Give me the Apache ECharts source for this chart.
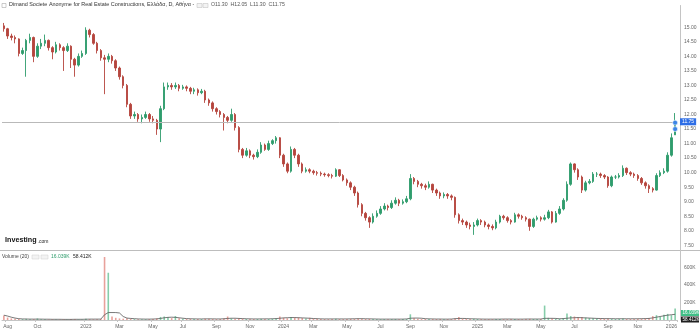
<!DOCTYPE html>
<html><head><meta charset="utf-8">
<script src="https://cdn.jsdelivr.net/npm/echarts@6/dist/echarts.min.js"></script>
<style>html,body{margin:0;padding:0;background:#fff}#c{width:700px;height:331px}</style>
</head><body><div id="c"></div>
<script>
// ---- data (weekly candles) ----
const firstWeek = '2022-07-25';
const weekCount = 181;
// [open, close, low, high]
const ohlc = [
[15.05,14.95,14.85,15.15],[14.95,14.70,14.60,14.98],[14.70,14.65,14.55,14.78],[14.65,14.60,14.45,14.72],[14.60,14.10,14.00,14.62],
[14.10,14.20,14.05,14.30],[14.20,14.55,13.30,14.60],[14.55,14.65,14.45,14.78],[14.65,14.00,13.80,14.68],[14.00,14.35,13.95,14.45],
[14.35,14.45,14.25,14.60],[14.45,14.55,14.35,14.75],[14.55,14.30,14.20,14.58],[14.30,14.15,13.90,14.35],[14.15,14.40,14.10,14.50],
[14.40,14.30,14.20,14.45],[14.30,14.20,13.50,14.35],[14.20,14.35,14.15,14.45],[14.35,13.90,13.60,14.38],[13.90,13.70,13.30,13.95],
[13.70,14.00,13.65,14.10],[14.00,14.10,13.95,14.20],[14.10,14.90,14.05,15.00],[14.90,14.75,14.65,14.95],[14.75,14.45,14.40,14.80],
[14.45,14.20,14.10,14.50],[14.20,13.95,13.85,14.25],[13.95,13.90,12.70,14.05],[13.90,14.00,13.80,14.10],[14.00,13.85,13.75,14.05],
[13.85,13.60,13.50,13.90],[13.60,13.30,13.20,13.65],[13.30,13.00,12.90,13.35],[13.00,12.35,12.25,13.05],[12.35,11.95,11.85,12.40],
[11.95,12.00,11.85,12.10],[12.00,11.85,11.75,12.05],[11.85,11.90,11.70,12.00],[11.90,12.00,11.85,12.10],[12.00,11.85,11.75,12.05],
[11.85,11.80,11.70,11.95],[11.80,11.50,11.30,11.85],[11.50,12.20,11.05,12.30],[12.20,12.95,12.15,13.10],[12.95,13.00,12.85,13.10],
[13.00,12.95,12.85,13.08],[12.95,13.00,12.88,13.10],[13.00,12.90,12.80,13.05],[12.90,12.95,12.85,13.02],[12.95,12.90,12.80,13.00],
[12.90,12.80,12.70,12.95],[12.80,12.85,12.70,12.92],[12.85,12.75,12.65,12.90],[12.75,12.80,12.70,12.88],[12.80,12.50,12.40,12.85],
[12.50,12.40,12.30,12.55],[12.40,12.20,12.10,12.45],[12.20,12.10,12.00,12.25],[12.10,12.00,11.90,12.15],[12.00,11.90,11.45,12.05],
[11.90,11.80,11.70,11.95],[11.80,12.00,11.75,12.20],[12.00,11.55,11.45,12.05],[11.55,10.80,10.70,11.60],[10.80,10.60,10.50,10.85],
[10.60,10.75,10.55,10.85],[10.75,10.60,10.50,10.80],[10.60,10.55,10.45,10.65],[10.55,10.70,10.50,10.80],[10.70,10.95,10.65,11.05],
[10.95,10.80,10.75,11.00],[10.80,11.00,10.75,11.10],[11.00,11.10,10.95,11.15],[11.10,11.20,11.00,11.26],[11.20,10.60,10.50,11.22],
[10.60,10.30,10.20,10.65],[10.30,10.05,9.98,10.35],[10.05,10.80,10.00,10.90],[10.80,10.60,10.50,10.85],[10.60,10.30,10.20,10.65],
[10.30,10.05,9.98,10.35],[10.05,10.10,10.00,10.18],[10.10,10.05,9.98,10.15],[10.05,10.00,9.93,10.10],[10.00,9.98,9.90,10.06],
[9.98,9.95,9.88,10.04],[9.95,9.93,9.86,10.00],[9.93,9.90,9.84,9.98],[9.90,9.88,9.80,9.96],[9.88,10.10,9.85,10.15],
[10.10,9.90,9.85,10.12],[9.90,9.75,9.70,9.95],[9.75,9.65,9.55,9.80],[9.65,9.50,9.40,9.70],[9.50,9.30,9.20,9.55],
[9.30,8.90,8.80,9.35],[8.90,8.60,8.50,8.95],[8.60,8.45,8.35,8.65],[8.45,8.30,8.10,8.50],[8.30,8.50,8.25,8.60],
[8.50,8.60,8.45,8.70],[8.60,8.75,8.55,8.85],[8.75,8.85,8.70,8.95],[8.85,8.80,8.70,8.90],[8.80,8.95,8.75,9.05],
[8.95,9.05,8.90,9.15],[9.05,8.95,8.85,9.10],[8.95,9.00,8.90,9.08],[9.00,9.10,8.95,9.20],[9.10,9.80,9.05,9.95],
[9.80,9.70,9.60,9.85],[9.70,9.60,9.50,9.75],[9.60,9.55,9.45,9.65],[9.55,9.50,9.40,9.62],[9.50,9.60,9.45,9.70],
[9.60,9.40,9.30,9.62],[9.40,9.30,9.20,9.45],[9.30,9.20,9.10,9.35],[9.20,9.25,9.12,9.32],[9.25,9.20,9.10,9.30],
[9.20,9.15,9.05,9.25],[9.15,8.55,8.45,9.18],[8.55,8.35,8.25,8.60],[8.35,8.30,8.20,8.42],[8.30,8.20,8.10,8.35],
[8.20,8.15,8.05,8.28],[8.15,8.20,7.86,8.30],[8.20,8.35,8.15,8.42],[8.35,8.30,8.20,8.40],[8.30,8.20,8.12,8.35],
[8.20,8.15,8.05,8.25],[8.15,8.10,8.02,8.22],[8.10,8.30,8.05,8.38],[8.30,8.50,8.25,8.55],[8.50,8.45,8.38,8.55],
[8.45,8.35,8.28,8.50],[8.35,8.30,8.22,8.40],[8.30,8.55,8.28,8.62],[8.55,8.50,8.42,8.60],[8.50,8.45,8.38,8.55],
[8.45,8.40,8.32,8.50],[8.40,8.15,8.00,8.42],[8.15,8.40,8.10,8.45],[8.40,8.45,8.35,8.52],[8.45,8.40,8.32,8.50],
[8.40,8.45,8.35,8.55],[8.45,8.65,8.40,8.72],[8.65,8.30,8.25,8.68],[8.30,8.60,8.28,8.68],[8.60,8.75,8.55,8.85],
[8.75,9.05,8.70,9.12],[9.05,9.60,9.00,9.70],[9.60,10.30,9.55,10.35],[10.30,10.10,10.00,10.32],[10.10,9.85,9.75,10.15],
[9.85,9.40,9.30,9.90],[9.40,9.65,9.35,9.72],[9.65,9.70,9.60,9.78],[9.70,9.95,9.65,10.02],[9.95,9.95,9.85,10.02],
[9.95,9.90,9.82,10.00],[9.90,9.85,9.78,9.95],[9.85,9.55,9.48,9.88],[9.55,9.85,9.50,9.90],[9.85,9.85,9.78,9.92],
[9.85,9.90,9.80,9.98],[9.90,10.15,9.85,10.25],[10.15,10.00,9.92,10.18],[10.00,9.95,9.88,10.05],[9.95,9.90,9.82,10.00],
[9.90,9.80,9.72,9.95],[9.80,9.65,9.58,9.85],[9.65,9.55,9.45,9.70],[9.55,9.45,9.30,9.60],[9.45,9.40,9.32,9.50],
[9.40,9.90,9.38,9.98],[9.90,10.00,9.85,10.08],[10.00,10.05,9.95,10.15],[10.05,10.60,10.00,10.70],[10.60,11.20,10.55,11.35],
[11.30,11.75,11.30,12.05]
];
// volume in thousands
const volumeK = [
50,28,18,14,12,10,14,9,10,18,
9,8,7,8,7,6,8,6,9,10,
7,6,14,10,8,9,12,720,540,40,
25,18,15,20,14,10,9,8,9,10,
12,18,35,40,30,22,45,20,15,12,
14,10,12,11,15,14,12,10,11,16,
40,18,14,20,15,12,10,11,12,14,
11,12,15,18,40,25,20,32,28,30,
22,18,25,15,14,12,11,10,12,15,
12,10,12,14,13,18,15,12,14,11,
10,9,10,9,10,12,9,10,12,65,
20,14,12,11,10,12,11,10,9,10,
11,18,35,15,12,11,14,12,10,9,
10,9,11,12,10,9,10,11,10,9,
10,14,12,10,11,165,25,18,14,16,
22,75,45,40,30,35,28,22,20,18,
16,15,18,14,12,14,16,12,11,12,
13,15,18,20,45,55,40,60,70,55,
130
];
const volumeMA = [
55,45,32,22,15,12,11,10,10,10,
10,9,9,8,8,8,7,7,7,8,
8,8,9,10,10,10,10,60,85,85,
85,80,40,22,18,15,12,11,10,10,
11,13,18,25,30,32,30,25,20,16,
14,13,12,12,13,13,13,12,12,14,
18,20,20,18,16,14,13,12,12,12,
13,13,14,16,20,24,26,28,28,26,
24,22,20,17,15,13,12,12,12,12,
12,12,12,13,14,15,15,14,13,12,
11,10,10,10,10,10,10,10,12,20,
22,22,20,15,13,12,11,11,10,10,
11,15,18,18,17,14,13,12,11,10,
10,10,10,10,11,11,11,10,10,10,
11,11,11,11,11,19,19,19,18,14,
16,20,24,26,28,26,24,22,20,18,
17,16,15,15,14,14,14,14,14,14,
14,15,16,18,24,32,40,48,55,60,
65
];
const tickLabels = [
['2022-08-01','Aug'],['2022-10-01','Oct'],['2023-01-01','2023'],['2023-03-01','Mar'],['2023-05-01','May'],
['2023-07-01','Jul'],['2023-09-01','Sep'],['2023-11-01','Nov'],['2024-01-01','2024'],['2024-03-01','Mar'],
['2024-05-01','May'],['2024-07-01','Jul'],['2024-09-01','Sep'],['2024-11-01','Nov'],['2025-01-01','2025'],
['2025-03-01','Mar'],['2025-05-01','May'],['2025-07-01','Jul'],['2025-09-01','Sep'],['2025-11-01','Nov'],
['2026-01-01','2026']
];
const lastPrice = 11.75;
const titleText = 'Dimand Societe Anonyme for Real Estate Constructions, Ελλάδα, D, Αθήνα -';
const ohlcText = 'O11.30  H12.05  L11.30  C11.75';
const volLegend = ['Volume (20)', '16.039K', '58.412K'];

// ---- build ----
const DAY = 86400000;
const t0 = Date.parse(firstWeek + 'T00:00:00Z');
const weeks = [];
for (let i = 0; i < weekCount; i++) weeks.push(new Date(t0 + i * 7 * DAY).toISOString().slice(0, 10));
const tickMap = {};
tickLabels.forEach(([d, l]) => { tickMap[Math.floor((Date.parse(d + 'T00:00:00Z') - t0) / (7 * DAY))] = l; });

const UP = '#2f9c6c', DOWN = '#b5453d';
const UPV = '#86cdaa', DOWNV = '#e8a19b';
const FONT = 'Liberation Sans, Arial, sans-serif';

const chart = echarts.init(document.getElementById('c'), null, {renderer: 'canvas'});
const gridL = 2, gridR = 23;
chart.setOption({
  animation: false,
  backgroundColor: '#fff',
  textStyle: {fontFamily: FONT},
  grid: [
    {left: gridL, right: gridR, top: 5.5, bottom: 78.4},
    {left: gridL, right: gridR, top: 252, bottom: 11}
  ],
  xAxis: [
    {type: 'category', gridIndex: 0, data: weeks, boundaryGap: true,
     axisLine: {show: false}, axisTick: {show: false}, axisLabel: {show: false}, splitLine: {show: false}},
    {type: 'category', gridIndex: 1, data: weeks, boundaryGap: true, offset: 2,
     axisLine: {show: true, lineStyle: {color: '#c4c4c4', width: 1}},
     axisTick: {show: true, length: 2, interval: (i) => tickMap[i] !== undefined, lineStyle: {color: '#c4c4c4'}},
     axisLabel: {show: true, interval: (i) => tickMap[i] !== undefined,
       formatter: (v, i) => tickMap[i] || '', fontSize: 5, color: '#666', margin: 2, fontFamily: FONT},
     splitLine: {show: false}}
  ],
  yAxis: [
    {type: 'value', gridIndex: 0, position: 'right', offset: 3, min: 7.25, max: 15.75, interval: 0.25,
     axisLine: {show: true, lineStyle: {color: '#c4c4c4', width: 1}}, axisTick: {show: false},
     splitLine: {show: false},
     axisLabel: {fontSize: 5, color: '#666', margin: 4, fontFamily: FONT,
       formatter: (v) => (v > 15.01 || Math.abs(v * 2 - Math.round(v * 2)) > 1e-6) ? '' : v.toFixed(2)}},
    {type: 'value', gridIndex: 1, position: 'right', offset: 3, min: 0, max: 777, interval: 200,
     axisLine: {show: true, lineStyle: {color: '#c4c4c4', width: 1}}, axisTick: {show: false},
     splitLine: {show: false},
     axisLabel: {fontSize: 5, color: '#666', margin: 4, fontFamily: FONT,
       formatter: (v) => (v > 0 && v % 200 === 0) ? v + 'K' : ''}}
  ],
  series: [
    {type: 'candlestick', xAxisIndex: 0, yAxisIndex: 0, data: ohlc, barMaxWidth: 3, barMinWidth: 2,
     itemStyle: {color: UP, color0: DOWN, borderColor: UP, borderColor0: DOWN, borderWidth: 0.9},
     markLine: {silent: true, symbol: ['none', 'none'], animation: false,
       lineStyle: {color: '#b9b9b9', type: 'solid', width: 1},
       label: {show: true, position: 'end', distance: 3, formatter: () => lastPrice.toFixed(2),
         backgroundColor: '#2e6ee6', color: '#fff', fontSize: 5, padding: [1, 2, 1, 2], fontFamily: FONT},
       data: [{yAxis: lastPrice}]},
     markPoint: {silent: true, symbol: 'circle', symbolSize: 5, label: {show: false},
       itemStyle: {color: '#3d85e6', borderColor: '#fff', borderWidth: 0.6},
       data: [{coord: [weekCount - 1, 11.72]}, {coord: [weekCount - 1, 11.5]}]}
    },
    {type: 'bar', xAxisIndex: 1, yAxisIndex: 1, barWidth: 1.6,
     data: volumeK.map((v, i) => ({value: v, itemStyle: {color: ohlc[i][1] >= ohlc[i][0] ? UPV : DOWNV}}))},
    {type: 'line', xAxisIndex: 1, yAxisIndex: 1, data: volumeMA, showSymbol: false, symbol: 'none',
     lineStyle: {color: '#555', width: 0.8}}
  ],
  graphic: [
    {type: 'line', shape: {x1: 0, y1: 250.5, x2: 700, y2: 250.5}, style: {stroke: '#bdbdbd', lineWidth: 1}, silent: true},
    {type: 'rect', shape: {x: 2, y: 3.5, width: 4, height: 4}, style: {fill: '#fff', stroke: '#aaa', lineWidth: 0.6}},
    {type: 'text', x: 9, y: 2.3, style: {text: titleText, fontSize: 5.45, fill: '#333', fontFamily: FONT}},
    {type: 'rect', shape: {x: 197, y: 3.5, width: 5, height: 4}, style: {fill: '#f3f3f3', stroke: '#bbb', lineWidth: 0.5}},
    {type: 'rect', shape: {x: 203, y: 3.5, width: 5, height: 4}, style: {fill: '#f3f3f3', stroke: '#bbb', lineWidth: 0.5}},
    {type: 'text', x: 211, y: 2.3, style: {text: ohlcText, fontSize: 5.2, fill: '#555', fontFamily: FONT}},
    {type: 'text', x: 5, y: 236.5, style: {text: 'Investing', fontSize: 7.2, fontWeight: 'bold', fill: '#111', fontFamily: FONT}},
    {type: 'text', x: 37.5, y: 238.9, style: {text: '.com', fontSize: 5, fill: '#222', fontFamily: FONT}},
    {type: 'text', x: 2, y: 254, style: {text: volLegend[0], fontSize: 5, fill: '#444', fontFamily: FONT}},
    {type: 'rect', shape: {x: 32, y: 255, width: 7, height: 4}, style: {fill: '#f3f3f3', stroke: '#ccc', lineWidth: 0.5}},
    {type: 'rect', shape: {x: 41, y: 255, width: 7, height: 4}, style: {fill: '#f3f3f3', stroke: '#ccc', lineWidth: 0.5}},
    {type: 'text', x: 51, y: 254, style: {text: volLegend[1], fontSize: 5, fill: '#2f9c6c', fontFamily: FONT}},
    {type: 'text', x: 73, y: 254, style: {text: volLegend[2], fontSize: 5, fill: '#222', fontFamily: FONT}},
    {type: 'rect', shape: {x: 681, y: 310, width: 18, height: 6}, style: {fill: '#3fbf86'}},
    {type: 'text', x: 682.5, y: 310.6, style: {text: volLegend[1], fontSize: 4.6, fill: '#fff', fontFamily: FONT}},
    {type: 'rect', shape: {x: 681, y: 316.5, width: 18, height: 6}, style: {fill: '#1f1f1f'}},
    {type: 'text', x: 682.5, y: 317.1, style: {text: volLegend[2], fontSize: 4.6, fill: '#fff', fontFamily: FONT}}
  ]
});
</script></body></html>
